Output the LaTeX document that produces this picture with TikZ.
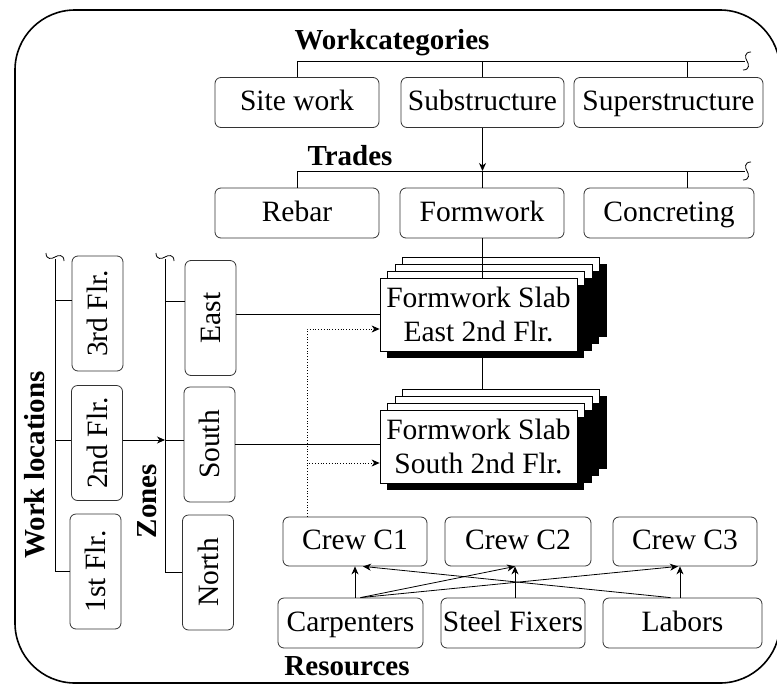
\documentclass[tikz,border=0pt]{standalone}
\usepackage{fontspec}
\setmainfont{Liberation Serif}
\usetikzlibrary{arrows.meta,shadows}

\tikzset{
  every node/.style={font=\fontsize{29.5}{34}\selectfont, inner sep=0pt},
  box/.style={draw=black!80, rounded corners=6pt, line width=0.8pt, minimum height=50pt},
  hbox/.style={box, text height=21pt, text depth=5pt},
  vbox/.style={box, minimum width=51pt, minimum height=115pt},
  head/.style={font=\fontsize{29}{34}\selectfont\bfseries},
  slab/.style={draw, fill=white, line width=0.8pt, minimum width=197pt, minimum height=73pt, align=center,
    general shadow={shadow xshift=29.5pt, shadow yshift=14pt, fill=black, opacity=1},
    general shadow={shadow xshift=22.5pt, shadow yshift=21pt, fill=white, draw=black, opacity=1},
    general shadow={shadow xshift=22pt, shadow yshift=7pt, fill=black, opacity=1},
    general shadow={shadow xshift=15pt, shadow yshift=14pt, fill=white, draw=black, opacity=1},
    general shadow={shadow xshift=14.5pt, shadow yshift=0pt, fill=black, opacity=1},
    general shadow={shadow xshift=7.5pt, shadow yshift=7pt, fill=white, draw=black, opacity=1},
    general shadow={shadow xshift=7pt, shadow yshift=-7pt, fill=black, opacity=1}},
  tip/.style={-{Stealth[length=8pt,width=7pt,inset=2.5pt]}},
  brk/.pic={\draw[line width=0.8pt] (-4,-9) .. controls (3,-9) and (2,-3) .. (0,0) .. controls (-2,3) and (-3,9) .. (4,9);}
}

\begin{document}
\begin{tikzpicture}[x=1pt,y=1pt,line width=0.8pt]
\useasboundingbox (0,0) rectangle (777,-686);
\draw[line width=1.6pt, rounded corners=60pt] (15,-10) rectangle (780,-683);

% work categories
\node[head, anchor=base] (wcat) at (392,-49) {Workcategories};
\node[hbox, minimum width=164pt] (site) at (297,-102.5) {Site work};
\node[hbox, minimum width=163pt] (sub) at (482.5,-102.5) {Substructure};
\node[hbox, minimum width=189pt] (sup) at (668.5,-102.5) {Superstructure};
\coordinate (wend) at (745,-61);
\draw (site.north) |- (wend);
\draw (sub.north) -- (sub.north |- wend);
\draw ([xshift=18.5pt]sup.north) -- ([xshift=18.5pt]sup.north |- wend);
\pic at ([xshift=2pt]wend) {brk};

% trades
\node[head, anchor=base] (trd) at (350,-165) {Trades};
\node[hbox, minimum width=164pt] (rebar) at (297,-213) {Rebar};
\node[hbox, minimum width=164pt] (formw) at (482,-213) {Formwork};
\node[hbox, minimum width=170pt] (concr) at (669,-213) {Concreting};
\coordinate (tend) at (745,-171);
\draw (rebar.north) |- (tend);
\draw (formw.north) -- (formw.north |- tend);
\draw ([xshift=18pt]concr.north) -- ([xshift=18pt]concr.north |- tend);
\draw[tip] (sub.south) -- (sub.south |- tend);
\pic at ([xshift=2pt]tend) {brk};

% work locations
\node[head, rotate=90] (wloc) at (35,-465) {Work locations};
\node[vbox] (fl3) at (97.5,-313.5) {\rotatebox{90}{3rd Flr.}};
\node[vbox] (fl2) at (97,-443) {\rotatebox{90}{2nd Flr.}};
\node[vbox] (fl1) at (95.5,-571.5) {\rotatebox{90}{1st Flr.}};
\coordinate (wtop) at (55,-259);
\draw (fl1.west) -| (wtop);
\draw ([yshift=13.5pt]fl3.west) -- ([yshift=13.5pt]fl3.west -| wtop);
\draw ([yshift=3pt]fl2.west) -- ([yshift=3pt]fl2.west -| wtop);
\pic[rotate=-90] at ([yshift=2pt]wtop) {brk};

% zones
\node[head, rotate=90] (zon) at (147.5,-501) {Zones};
\node[vbox] (east) at (210.5,-318) {\rotatebox{90}{East}};
\node[vbox] (south) at (209.5,-444.5) {\rotatebox{90}{South}};
\node[vbox] (north) at (208,-572.5) {\rotatebox{90}{North}};
\coordinate (ztop) at (165,-259);
\draw (north.west) -| (ztop);
\draw ([yshift=17pt]east.west) -- ([yshift=17pt]east.west -| ztop);
\draw ([yshift=4.5pt]south.west) -- ([yshift=4.5pt]south.west -| ztop);
\draw[tip] ([yshift=3pt]fl2.east) -- ([yshift=3pt]fl2.east -| ztop);
\pic[rotate=-90] at ([yshift=2pt]ztop) {brk};

% activities
\node[slab] (slabE) at (478.5,-314.5) {Formwork Slab\\East 2nd Flr.};
\node[slab] (slabS) at (478.5,-446.5) {Formwork Slab\\South 2nd Flr.};
\draw (formw.south) -- (formw.south |- slabE.north);
\draw ([yshift=-7pt]slabE.south -| formw) -- ([yshift=21pt]slabS.north -| formw);
\draw (east.east |- slabE.west) -- (slabE.west);
\draw (south.east) -- (south.east -| slabS.west);

% crews
\node[hbox, minimum width=144pt, minimum height=49pt] (crew1) at (355,-541.5) {Crew C1};
\node[hbox, minimum width=146pt, minimum height=49pt] (crew2) at (518,-541.5) {Crew C2};
\node[hbox, minimum width=144pt, minimum height=49pt] (crew3) at (685,-541.5) {Crew C3};
\draw[dotted, tip] ([xshift=-48pt]crew1.north) |- ([yshift=-14.5pt]slabE.west);
\draw[dotted, tip] ([xshift=-48pt]crew1.north) |- ([yshift=-16.5pt]slabS.west);

% resources
\node[hbox, minimum width=145pt] (carp) at (350.5,-623) {Carpenters};
\node[hbox, minimum width=144pt] (steel) at (513,-623) {Steel Fixers};
\node[hbox, minimum width=159pt] (labor) at (682.5,-623) {Labors};
\node[head, anchor=base] (res) at (347,-675) {Resources};
\draw[tip] ([xshift=4.5pt]carp.north) -- (crew1.south);
\draw[tip] ([xshift=10pt]carp.north) -- ([xshift=-3pt]crew2.south);
\draw[tip] ([xshift=10pt]carp.north) -- ([xshift=-7pt]crew3.south);
\draw[tip] ([xshift=2pt]steel.north) -- ([xshift=-3pt]crew2.south);
\draw[tip] ([xshift=-2.5pt]labor.north) -- ([xshift=-5pt]crew3.south);
\draw[tip] ([xshift=-12pt]labor.north) -- ([xshift=8pt]crew1.south);
\end{tikzpicture}
\end{document}
